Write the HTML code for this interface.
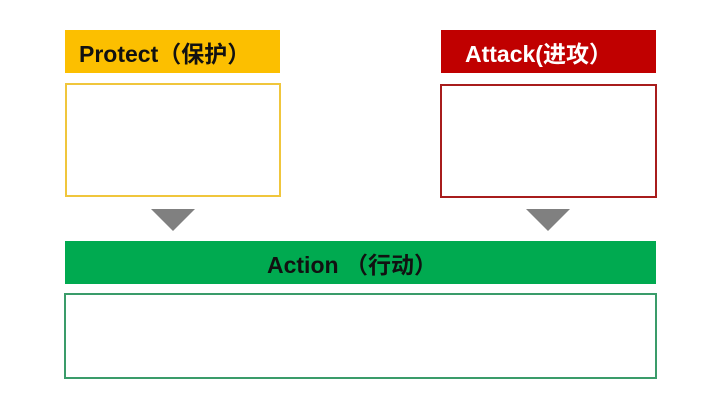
<!DOCTYPE html>
<html><head><meta charset="utf-8"><style>
html,body{margin:0;padding:0;background:#fff;}
body{width:720px;height:405px;position:relative;overflow:hidden;font-family:"Liberation Sans","Noto Sans CJK SC",sans-serif;}
.a{position:absolute;box-sizing:border-box;}
.h{font-weight:bold;font-size:23px;display:flex;align-items:center;justify-content:center;}
.tri{position:absolute;width:0;height:0;border-left:22px solid transparent;border-right:22px solid transparent;border-top:22px solid #808080;}
</style></head><body>
<div class="a h" style="left:65px;top:30px;width:215px;height:43px;background:#fcbf00;color:#111;justify-content:flex-start;padding-left:14px;">Protect（保护）</div>
<div class="a" style="left:65px;top:83px;width:216px;height:114px;border:2px solid #f0c63c;"></div>
<div class="a h" style="left:441px;top:30px;width:215px;height:43px;background:#c00000;color:#fff;justify-content:flex-start;padding-left:24px;">Attack(进攻）</div>
<div class="a" style="left:440px;top:84px;width:217px;height:114px;border:2px solid #a81c1c;"></div>
<div class="tri" style="left:151px;top:209px;"></div>
<div class="tri" style="left:526px;top:209px;"></div>
<div class="a h" style="left:65px;top:241px;width:591px;height:43px;background:#00aa50;color:#111;justify-content:flex-start;padding-left:202px;">Action （行动）</div>
<div class="a" style="left:64px;top:293px;width:593px;height:86px;border:2px solid #3a9c6a;"></div>
</body></html>
